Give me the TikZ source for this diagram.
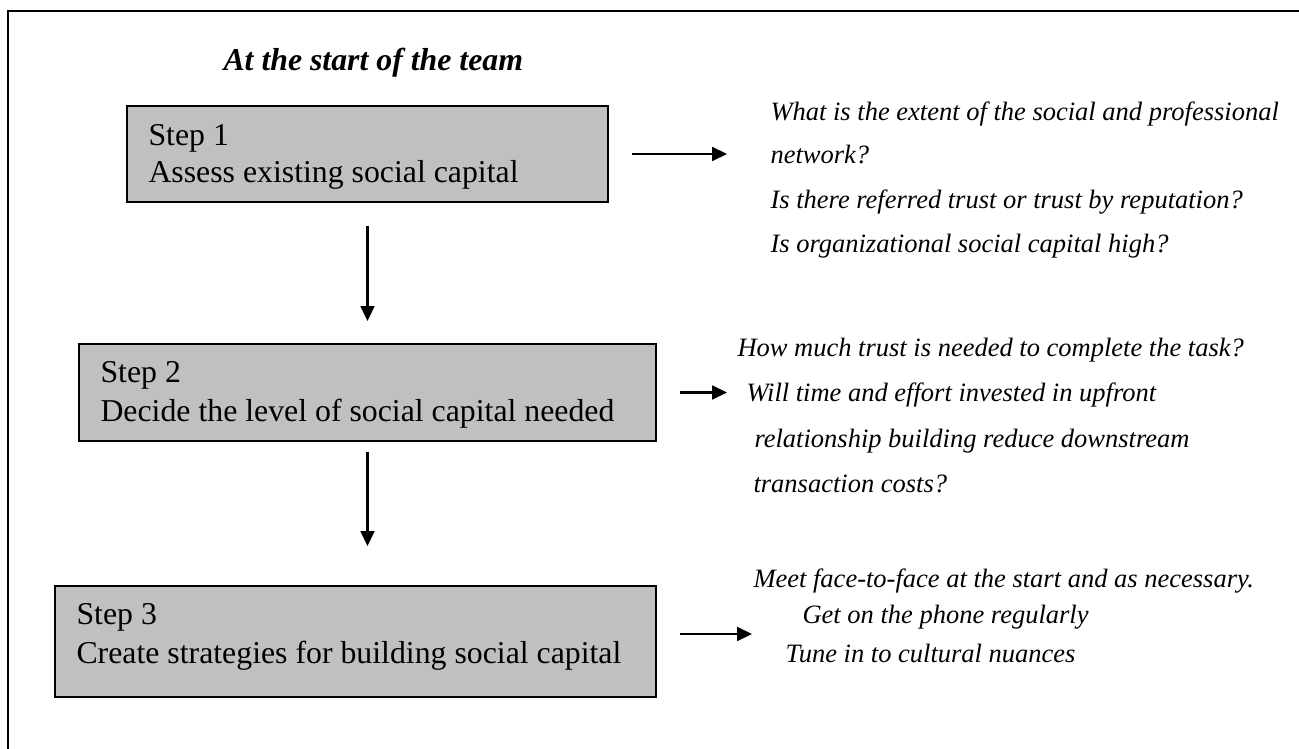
\documentclass[tikz,border=0pt]{standalone}
\usepackage{fontspec}
\setmainfont{Liberation Serif}
\usetikzlibrary{arrows.meta}
\definecolor{boxgray}{RGB}{192,192,192}
\begin{document}
\begin{tikzpicture}[x=0.37736pt,y=-0.37736pt,
  stepbox/.style={draw=black, line width=0.75pt, fill=boxgray, inner sep=0pt},
  steptext/.style={anchor=base west, inner sep=0pt, font=\fontsize{12}{14}\selectfont},
  note/.style={anchor=base west, inner sep=0pt, font=\fontsize{10}{12}\selectfont\itshape},
  heading/.style={anchor=base west, inner sep=0pt, font=\fontsize{12}{14}\selectfont\bfseries\itshape},
  flow/.style={line width=0.9pt, -{Triangle[length=5.6pt,width=5.2pt]}},
]
\useasboundingbox (0,0) rectangle (1299,749);

% frame (top and left edges)
\draw[line width=0.75pt] (8,760) -- (8,11) -- (1310,11);

% heading
\node[heading] (title) at (223,71) {At the start of the team};

% step boxes
\node[stepbox, minimum width=481*0.37736pt, minimum height=96*0.37736pt] (s1) at (367.5,154) {};
\node[stepbox, minimum width=577*0.37736pt, minimum height=97*0.37736pt] (s2) at (367.5,392.5) {};
\node[stepbox, minimum width=601*0.37736pt, minimum height=111*0.37736pt] (s3) at (355.5,641.5) {};

\node[steptext] (s1a) at (148,146) {Step 1};
\node[steptext] (s1b) at (148,183) {Assess existing social capital};
\node[steptext] (s2a) at (100,383) {Step 2};
\node[steptext] (s2b) at (100,422) {Decide the level of social capital needed};
\node[steptext] (s3a) at (76,625) {Step 3};
\node[steptext] (s3b) at (76,663) {Create strategies for building social capital};

% questions and strategies
\node[note] (q1) at (770,121) {What is the extent of the social and professional};
\node[note] (q2) at (770,164) {network?};
\node[note] (q3) at (770,209) {Is there referred trust or trust by reputation?};
\node[note] (q4) at (770,253) {Is organizational social capital high?};

\node[note] (n1) at (737,357) {How much trust is needed to complete the task?};
\node[note] (n2) at (746,402) {Will time and effort invested in upfront};
\node[note] (n3) at (754,448) {relationship building reduce downstream};
\node[note] (n4) at (753,493) {transaction costs?};

\node[note] (m1) at (753,587) {Meet face-to-face at the start and as necessary.};
\node[note] (m2) at (802,624) {Get on the phone regularly};
\node[note] (m3) at (785,662) {Tune in to cultural nuances};

% connectors
\coordinate (e1) at (727,154);
\coordinate (e2) at (727,392.5);
\coordinate (e3) at (752,634);
\draw[flow, shorten <=8.68pt] (s1.east) -- (e1);
\draw[flow, shorten <=8.68pt] (s2.east) -- (e2);
\draw[flow, shorten <=8.68pt] (s3.east |- e3) -- (e3);
\draw[flow, shorten <=8.68pt, shorten >=8.30pt] (s1.south) -- (s2.north);
\draw[flow, shorten <=3.77pt, shorten >=14.72pt] (s2.south) -- (s2.south |- s3.north);
\end{tikzpicture}
\end{document}
